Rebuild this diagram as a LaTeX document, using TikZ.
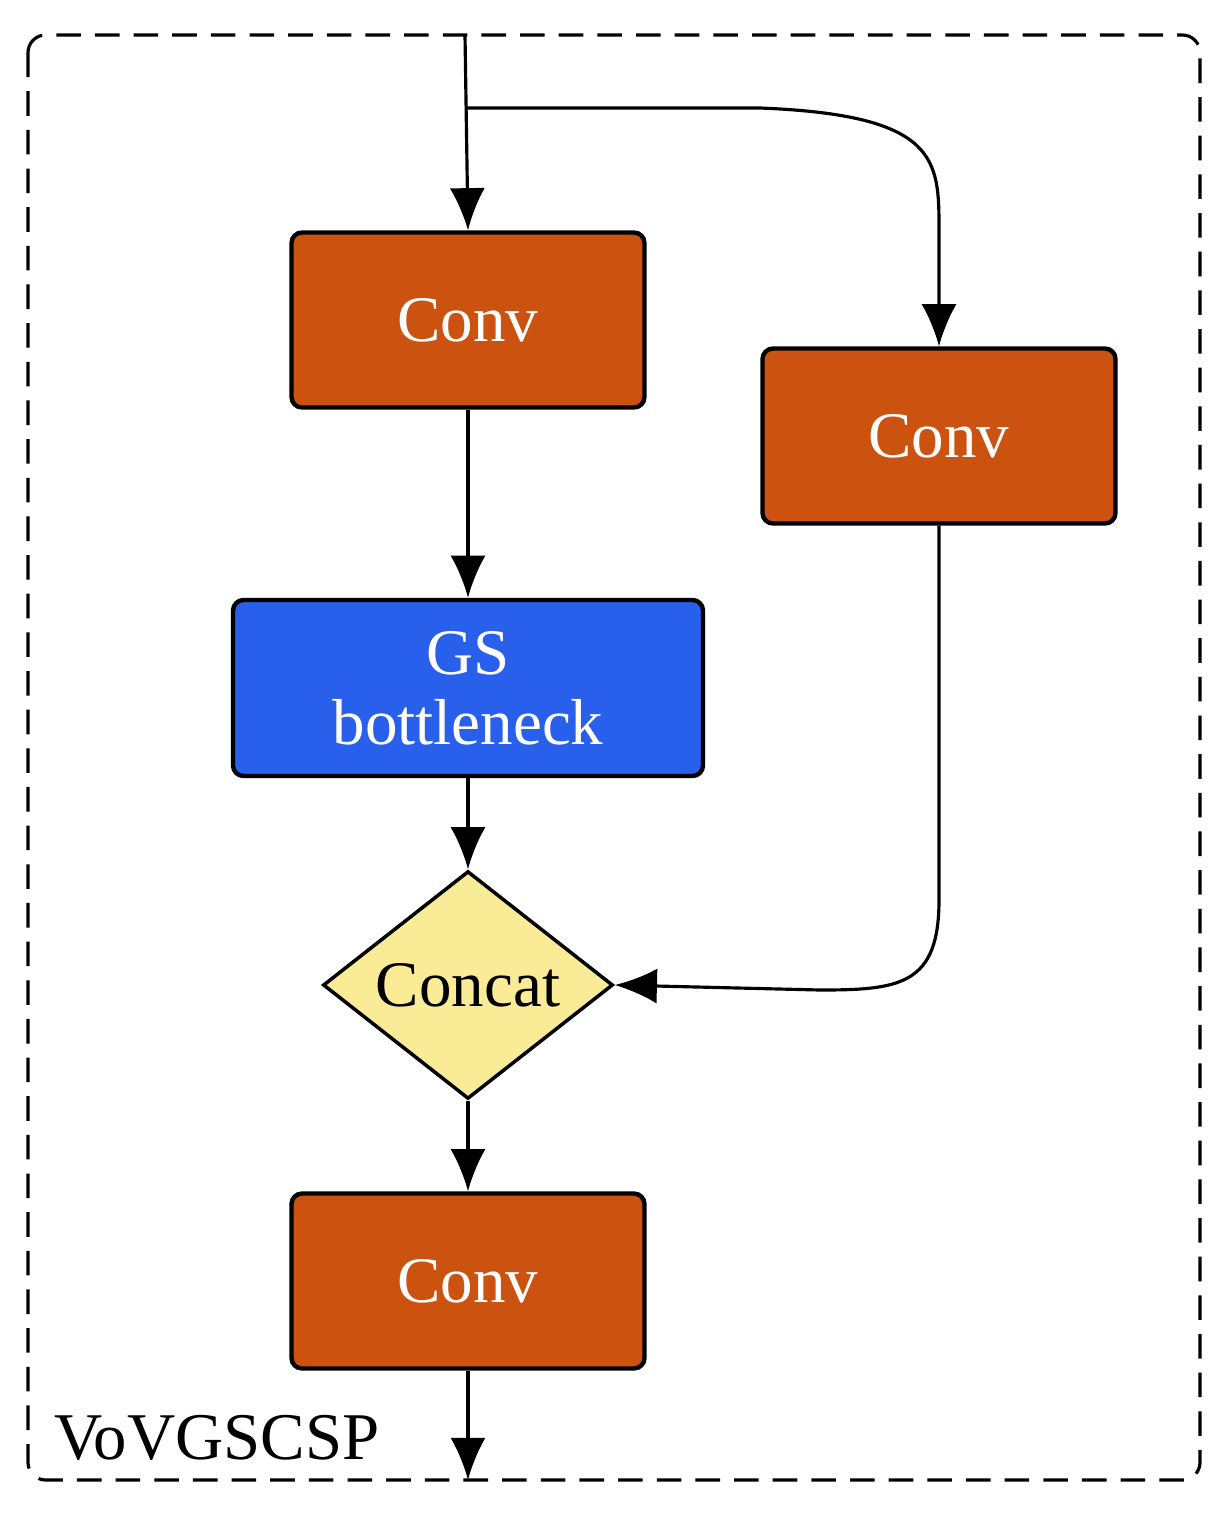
\documentclass[tikz,border=0pt]{standalone}
\usepackage{fontspec}
\setmainfont{Liberation Serif}
\usetikzlibrary{shapes.geometric,arrows.meta}
\definecolor{convc}{RGB}{204,82,16}
\definecolor{gsc}{RGB}{40,95,235}
\definecolor{catc}{RGB}{250,236,150}
\begin{document}
\begin{tikzpicture}[x=0.02cm,y=-0.02cm,
  box/.style={draw=black,line width=2.5pt,rounded corners=6pt,inner sep=0pt,font=\fontsize{37}{44}\selectfont,text=white,align=center},
  conv/.style={box,fill=convc,minimum width=353*0.02cm,minimum height=175*0.02cm},
  arr/.style={line width=1.8pt,-{Latex[length=24pt,width=20pt]}},
  ln/.style={line width=1.8pt}]
\useasboundingbox (0,0) rectangle (1228,1529);
\draw[dashed,line width=1.8pt,dash pattern=on 14pt off 8pt,rounded corners=10pt] (28,35) rectangle (1200,1480);
\node[conv] (c1) at (468,320) {Conv};
\node[conv] (c2) at (939,436) {Conv};
\node[box,fill=gsc,minimum width=470*0.02cm,minimum height=176*0.02cm] (gs) at (468,688) {GS\\[-4pt]bottleneck};
\node[diamond,draw=black,line width=2pt,fill=catc,minimum width=290*0.02cm,minimum height=192*0.02cm,inner sep=0pt,font=\fontsize{37}{44}\selectfont] (cat) at (468,985) {Concat};
\node[conv] (c3) at (468,1281) {Conv};
\node[anchor=west,font=\fontsize{38}{44}\selectfont] (lab) at (48,1438) {VoVGSCSP};
\coordinate (in) at (465,35);
\coordinate (br) at (465,108);
\coordinate (out) at (468,1480);
\draw[arr] (in) -- (c1.north);
\draw[arr] (br) -- (760,108) .. controls (939,115) and (939,160) .. (939,230) -- (c2.north);
\draw[arr] (c1) -- (gs);
\draw[arr] (gs) -- (cat.north);
\draw[arr] (c2.south) -- (939,900) .. controls (939,985) and (900,990) .. (820,990) -- (cat.east);
\draw[arr] (cat.south) -- (c3.north);
\draw[arr] (c3.south) -- (out);
\end{tikzpicture}
\end{document}
